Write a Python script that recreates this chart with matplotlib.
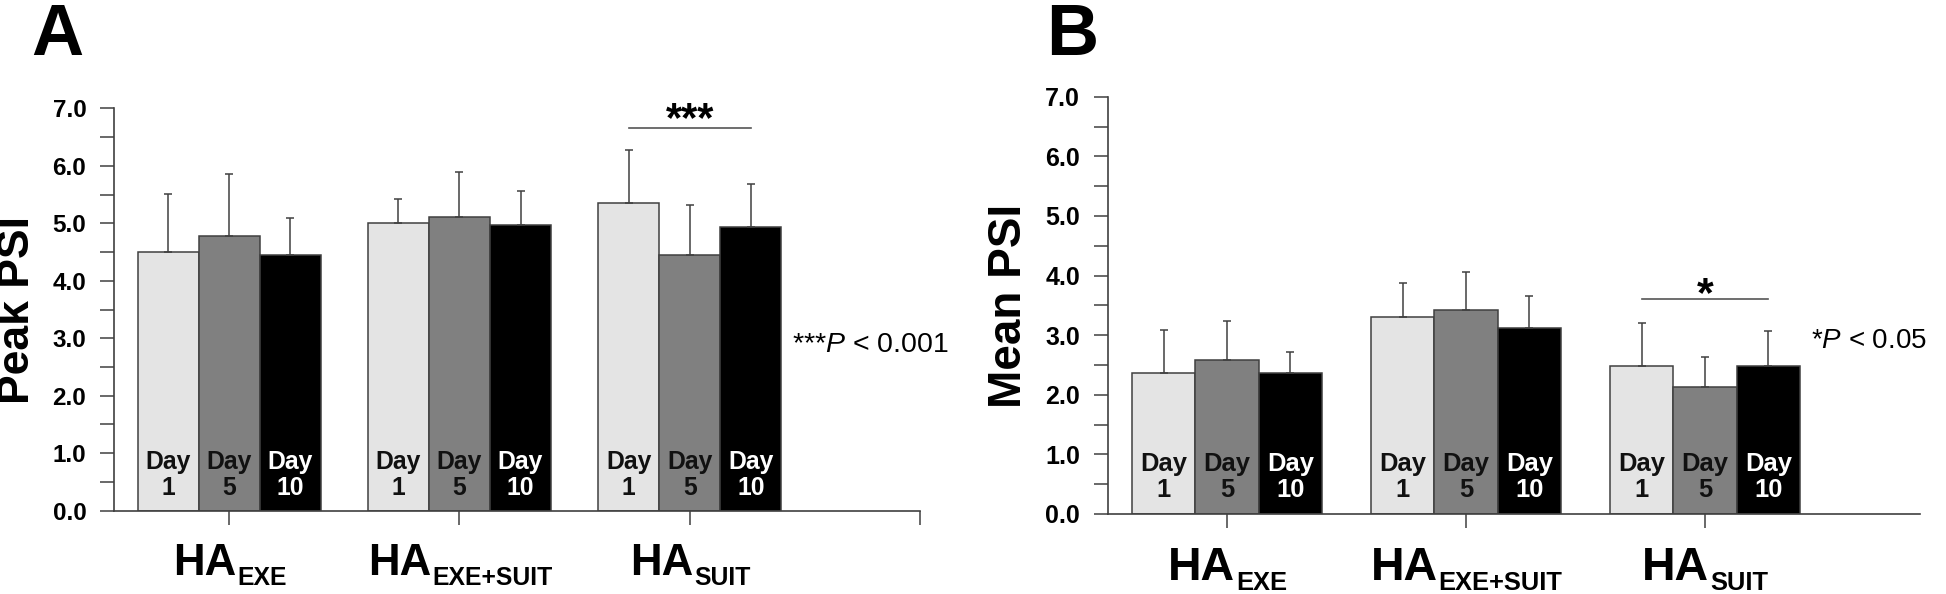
import numpy
import matplotlib
matplotlib.use('Agg')
import matplotlib.pyplot as plt
from matplotlib import rcParams

rcParams['font.family'] = 'Liberation Sans'
rcParams['mathtext.fontset'] = 'custom'
rcParams['mathtext.rm'] = 'Liberation Sans'
rcParams['mathtext.it'] = 'Liberation Sans:italic'
rcParams['mathtext.bf'] = 'Liberation Sans:bold'

# groups on the x axis
groups = ['HA', 'HA', 'HA']
group_subs = ['EXE', 'EXE+SUIT', 'SUIT']
days = ['Day\n1', 'Day\n5', 'Day\n10']

# panel A, peak PSI (mean and upper error)
peak_day1 = [4.50, 5.00, 5.35]
peak_day5 = [4.77, 5.11, 4.44]
peak_day10 = [4.45, 4.97, 4.93]
peak_err1 = [1.01, 0.42, 0.92]
peak_err5 = [1.08, 0.78, 0.87]
peak_err10 = [0.65, 0.59, 0.75]

# panel B, mean PSI
mean_day1 = [2.37, 3.31, 2.49]
mean_day5 = [2.59, 3.43, 2.13]
mean_day10 = [2.36, 3.12, 2.48]
mean_err1 = [0.71, 0.57, 0.71]
mean_err5 = [0.65, 0.63, 0.51]
mean_err10 = [0.36, 0.53, 0.59]

BAR_COLORS = ['#e4e4e4', '#808080', '#000000']
TEXT_COLORS = ['#111111', '#111111', '#ffffff']
EDGE = '#404040'
BAR_W = 0.265


def plot_panel(ax, vals, errs, tick_size, day_size, xmax, end_tick):
	x = numpy.arange(len(groups))
	error_config = {'linewidth': 1.1, 'capsize': 2.8, 'capthick': 1.1, 'ecolor': EDGE}
	for i in range(3):
		pos = x + (i - 1) * BAR_W
		ax.bar(pos, vals[i], width=BAR_W, color=BAR_COLORS[i], edgecolor=EDGE, linewidth=1.1,
			   yerr=[numpy.zeros(len(vals[i])), errs[i]], error_kw=error_config, zorder=2)
		for p in pos:
			ax.text(p, 0.62, days[i], ha='center', va='center', color=TEXT_COLORS[i],
					fontsize=day_size, fontweight='bold', linespacing=1.12, zorder=3)

	ax.set_xlim(-0.5, xmax)
	ax.set_ylim(0, 7)
	ax.set_yticks(numpy.arange(0, 7.01, 1.0))
	ax.set_yticks(numpy.arange(0.5, 7, 1.0), minor=True)
	ax.set_yticklabels(['%.1f' % v for v in numpy.arange(0, 7.01, 1.0)], fontsize=tick_size, fontweight='bold')
	xt = list(x) + ([3] if end_tick else [])
	ax.set_xticks(xt)
	ax.set_xticklabels(['' for _ in xt])

	for side in ['top', 'right']:
		ax.spines[side].set_visible(False)
	for side in ['left', 'bottom']:
		ax.spines[side].set_color(EDGE)
		ax.spines[side].set_linewidth(1.2)
	ax.tick_params(which='both', direction='out', length=10, width=1.1, color=EDGE, pad=10)
	ax.spines['left'].set_zorder(4)


def cat_labels(fig, ax, main_size, sub_size, drop):
	labels = []
	for i in range(len(groups)):
		t1 = ax.annotate(groups[i], xy=(i, 0), xycoords=('data', 'axes fraction'),
						 xytext=(0, -drop), textcoords='offset pixels',
						 ha='right', va='baseline', fontsize=main_size, fontweight='bold')
		t2 = ax.annotate(group_subs[i], xy=(i, 0), xycoords=('data', 'axes fraction'),
						 xytext=(0, -drop - 10), textcoords='offset pixels',
						 ha='left', va='baseline', fontsize=sub_size, fontweight='bold')
		labels.append((t1, t2))
	fig.canvas.draw()
	r = fig.canvas.get_renderer()
	for t1, t2 in labels:
		w1 = t1.get_window_extent(r).width
		w2 = t2.get_window_extent(r).width
		shift = (w1 - w2) / 2.0
		t1.xyann = (shift, -drop)
		t2.xyann = (shift + 1, -drop - 10)


def sig_bar(ax, group, y, stars, size, dy):
	ax.plot([group - BAR_W, group + BAR_W], [y, y], color='#555555', linewidth=1.2)
	ax.text(group, y + dy, stars, ha='center', va='baseline', fontsize=size, fontweight='bold')


fig = plt.figure(figsize=(19.46, 5.94), dpi=100)
axA = fig.add_axes([0.0586, 0.1402, 0.4142, 0.6775])
axB = fig.add_axes([0.5692, 0.1347, 0.4174, 0.7025])

plot_panel(axA, [peak_day1, peak_day5, peak_day10], [peak_err1, peak_err5, peak_err10],
		   17.5, 17.8, 3.0, True)
plot_panel(axB, [mean_day1, mean_day5, mean_day10], [mean_err1, mean_err5, mean_err10],
		   18, 18.4, 2.9, False)

sig_bar(axA, 2, 6.66, '***', 30, -0.05)
sig_bar(axB, 2, 3.61, '*', 31, -0.12)

axA.text(2.445, 2.88, '***$P$ < 0.001', ha='left', va='center', fontsize=20.5)
axB.text(2.445, 2.90, '*$P$ < 0.05', ha='left', va='center', fontsize=20)

fig.text(18 / 1946, 1 - 310 / 594, 'Peak PSI', rotation=90, ha='center', va='center',
		 fontsize=32, fontweight='bold')
fig.text(1009 / 1946, 1 - 306 / 594, 'Mean PSI', rotation=90, ha='center', va='center',
		 fontsize=33, fontweight='bold')

fig.text(31 / 1946, 1 - 55 / 594, 'A', ha='left', va='baseline', fontsize=52, fontweight='bold')
fig.text(1046 / 1946, 1 - 55 / 594, 'B', ha='left', va='baseline', fontsize=52, fontweight='bold')

cat_labels(fig, axA, 31.5, 17.8, 64)
cat_labels(fig, axB, 33.5, 18.4, 66)

fig.savefig('out.png', dpi=100)
plt.close()
